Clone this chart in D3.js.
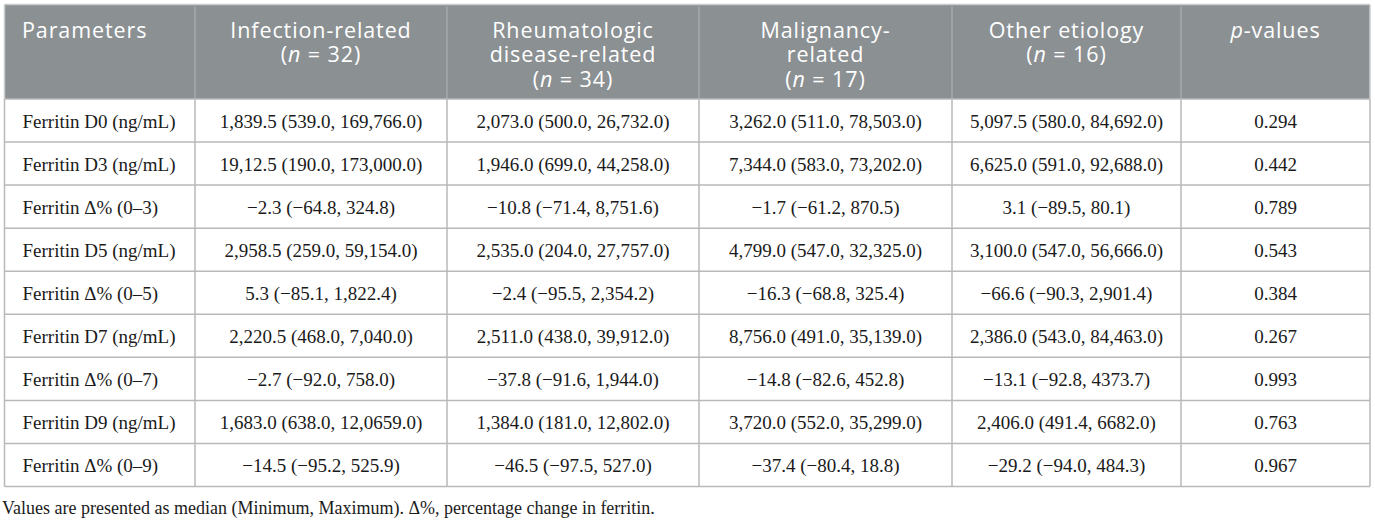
<!DOCTYPE html>
<html><head><meta charset="utf-8">
<script src="https://cdn.jsdelivr.net/npm/d3@7"></script>
<style>html,body{margin:0;padding:0;background:#fff;}svg{display:block;}</style>
</head><body>
<svg id="t" width="1375" height="520"></svg>
<script>
// ---- data ----
const headers = [
  [["Parameters"]],
  [["Infection-related"], ["(", {i:"n"}, " = 32)"]],
  [["Rheumatologic"], ["disease-related"], ["(", {i:"n"}, " = 34)"]],
  [["Malignancy-"], ["related"], ["(", {i:"n"}, " = 17)"]],
  [["Other etiology"], ["(", {i:"n"}, " = 16)"]],
  [[{i:"p"}, "-values"]]
];
const parameters = ["Ferritin D0 (ng/mL)","Ferritin D3 (ng/mL)","Ferritin Δ% (0–3)","Ferritin D5 (ng/mL)","Ferritin Δ% (0–5)","Ferritin D7 (ng/mL)","Ferritin Δ% (0–7)","Ferritin D9 (ng/mL)","Ferritin Δ% (0–9)"];
const infection = ["1,839.5 (539.0, 169,766.0)","19,12.5 (190.0, 173,000.0)","−2.3 (−64.8, 324.8)","2,958.5 (259.0, 59,154.0)","5.3 (−85.1, 1,822.4)","2,220.5 (468.0, 7,040.0)","−2.7 (−92.0, 758.0)","1,683.0 (638.0, 12,0659.0)","−14.5 (−95.2, 525.9)"];
const rheumatologic = ["2,073.0 (500.0, 26,732.0)","1,946.0 (699.0, 44,258.0)","−10.8 (−71.4, 8,751.6)","2,535.0 (204.0, 27,757.0)","−2.4 (−95.5, 2,354.2)","2,511.0 (438.0, 39,912.0)","−37.8 (−91.6, 1,944.0)","1,384.0 (181.0, 12,802.0)","−46.5 (−97.5, 527.0)"];
const malignancy = ["3,262.0 (511.0, 78,503.0)","7,344.0 (583.0, 73,202.0)","−1.7 (−61.2, 870.5)","4,799.0 (547.0, 32,325.0)","−16.3 (−68.8, 325.4)","8,756.0 (491.0, 35,139.0)","−14.8 (−82.6, 452.8)","3,720.0 (552.0, 35,299.0)","−37.4 (−80.4, 18.8)"];
const otherEtiology = ["5,097.5 (580.0, 84,692.0)","6,625.0 (591.0, 92,688.0)","3.1 (−89.5, 80.1)","3,100.0 (547.0, 56,666.0)","−66.6 (−90.3, 2,901.4)","2,386.0 (543.0, 84,463.0)","−13.1 (−92.8, 4373.7)","2,406.0 (491.4, 6682.0)","−29.2 (−94.0, 484.3)"];
const pValues = ["0.294","0.442","0.789","0.543","0.384","0.267","0.993","0.763","0.967"];
const footnote = "Values are presented as median (Minimum, Maximum). Δ%, percentage change in ferritin.";

// ---- layout ----
const colEdges = [4.5, 195, 447, 699, 952, 1181, 1370];
const headTop = 4.5, headBottom = 99;
const tableBottom = 486.5;
const columns = [parameters, infection, rheumatologic, malignancy, otherEtiology, pValues];

const svg = d3.select("#t");
const colIdx = d3.range(columns.length);
const y = d3.scaleBand().domain(d3.range(parameters.length)).range([headBottom, tableBottom]);

// header band
svg.append("rect").attr("x", colEdges[0]).attr("y", headTop)
  .attr("width", colEdges[colEdges.length-1]-colEdges[0]).attr("height", headBottom-headTop)
  .attr("fill", "#8b9093");
svg.append("line").attr("x1", colEdges[0]).attr("x2", colEdges[colEdges.length-1])
  .attr("y1", headTop).attr("y2", headTop).attr("stroke", "#c9cccd").attr("stroke-width", 1.5);

// header dividers
svg.selectAll(".hdiv").data(colEdges.slice(1, -1)).enter().append("line")
  .attr("x1", d=>d).attr("x2", d=>d).attr("y1", headTop+2).attr("y2", headBottom)
  .attr("stroke", "#a4a8aa").attr("stroke-width", 1.5);

// body grid
const gridColor = "#b9b9b9";
svg.selectAll(".rline").data(d3.range(parameters.length+1)).enter().append("line")
  .attr("x1", colEdges[0]).attr("x2", colEdges[colEdges.length-1])
  .attr("y1", i => i < parameters.length ? y(i) : tableBottom)
  .attr("y2", i => i < parameters.length ? y(i) : tableBottom)
  .attr("stroke", gridColor).attr("stroke-width", 1.5);
svg.selectAll(".cline").data(colEdges).enter().append("line")
  .attr("x1", d=>d).attr("x2", d=>d).attr("y1", headBottom).attr("y2", tableBottom)
  .attr("stroke", gridColor).attr("stroke-width", 1.5);
[colEdges[0], colEdges[colEdges.length-1]].forEach(x => {
  svg.append("line").attr("x1", x).attr("x2", x).attr("y1", headTop).attr("y2", headBottom)
    .attr("stroke", "#c9cccd").attr("stroke-width", 1.5);
});

// header text
const headFont = "'Open Sans', sans-serif";
const headSize = 21.5, headLine = 24.5, headFirst = 37.5;
colIdx.forEach(c => {
  const left = c === 0;
  const x = left ? colEdges[c] + 17.5 : (colEdges[c] + colEdges[c+1]) / 2;
  headers[c].forEach((line, li) => {
    const t = svg.append("text").attr("x", x).attr("y", headFirst + li*headLine)
      .attr("text-anchor", left ? "start" : "middle")
      .attr("font-family", headFont).attr("font-size", headSize)
      .attr("letter-spacing", 0.9).attr("fill", "#fff");
    line.forEach(part => {
      if (typeof part === "string") t.append("tspan").text(part);
      else t.append("tspan").attr("font-style", "italic").text(part.i);
    });
  });
});

// body text
const bodyFont = "'Liberation Serif', 'Times New Roman', serif";
colIdx.forEach(c => {
  const left = c === 0;
  const x = left ? colEdges[c] + 18 : (colEdges[c] + colEdges[c+1]) / 2;
  svg.selectAll(".c"+c).data(columns[c]).enter().append("text")
    .attr("x", x).attr("y", (d,i) => y(i) + y.bandwidth()/2 + 7.5)
    .attr("text-anchor", left ? "start" : "middle")
    .attr("font-family", bodyFont).attr("font-size", 19).attr("fill", "#1a1a1a")
    .text(d => d);
});

// footnote
svg.append("text").attr("x", 2).attr("y", 514)
  .attr("font-family", bodyFont).attr("font-size", 18).attr("fill", "#1a1a1a").text(footnote);
</script>
</body></html>
